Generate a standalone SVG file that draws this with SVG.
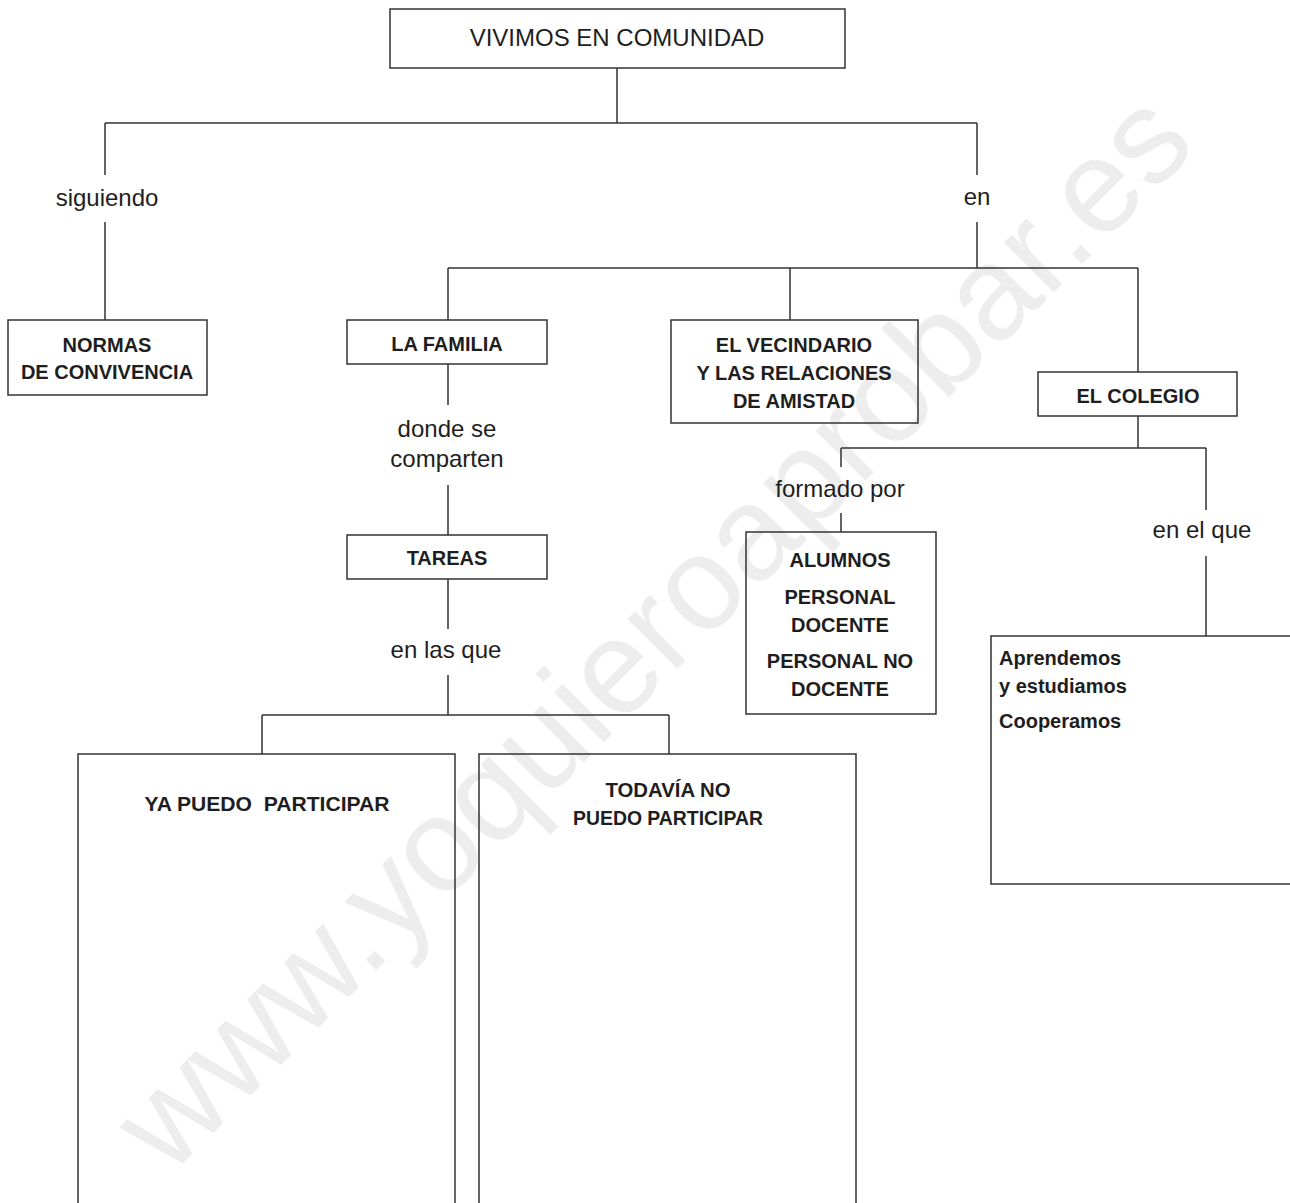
<svg xmlns="http://www.w3.org/2000/svg" width="1290" height="1203" viewBox="0 0 1290 1203">
<style>
.bx{fill:none;stroke:#333;stroke-width:1.5}
.ln{fill:none;stroke:#333;stroke-width:1.5}
.t{font-family:"Liberation Sans",Arial,sans-serif;font-size:24px;fill:#1e1e1e;text-anchor:middle}
.b{font-family:"Liberation Sans",Arial,sans-serif;font-size:20px;font-weight:bold;fill:#1e1e1e;text-anchor:middle}
.bl{text-anchor:start}
.wm{font-family:"Liberation Sans",Arial,sans-serif;font-size:133px;fill:#ededed}
</style>
<rect width="1290" height="1203" fill="#fff"/>
<text class="wm" transform="translate(169 1177) rotate(-45)">www.yoquieroaprobar.es</text>
<g id="connectors">
<path class="ln" d="M617 68V123M105 123H977M105 123V175M105 222V320M977 123V175M977 222V268M448 268H1138M448 268V320M790 268V320M1138 268V372"/>
<path class="ln" d="M448 364V405M448 485V535M448 579V629M448 675V715M262 715H669M262 715V754M669 715V754"/>
<path class="ln" d="M1138 416V448M841 448H1206M841 448V467M841 513V532M1206 448V510M1206 556V636"/>
</g>
<g id="lbl-siguiendo"><text class="t" x="107" y="206">siguiendo</text></g>
<g id="lbl-en"><text class="t" x="977" y="205">en</text></g>
<g id="lbl-donde"><text class="t" x="447" y="437">donde se</text><text class="t" x="447" y="467">comparten</text></g>
<g id="lbl-enlasque"><text class="t" x="446" y="658">en las que</text></g>
<g id="lbl-formado"><text class="t" x="840" y="497">formado por</text></g>
<g id="lbl-enelque"><text class="t" x="1202" y="538">en el que</text></g>
<g id="n-vivimos"><rect class="bx" x="390" y="9" width="455" height="59"/><text class="t" x="617" y="46">VIVIMOS EN COMUNIDAD</text></g>
<g id="n-normas"><rect class="bx" x="8" y="320" width="199" height="75"/><text class="b" x="107" y="352">NORMAS</text><text class="b" x="107" y="379">DE CONVIVENCIA</text></g>
<g id="n-familia"><rect class="bx" x="347" y="320" width="200" height="44"/><text class="b" x="447" y="351">LA FAMILIA</text></g>
<g id="n-vecindario"><rect class="bx" x="671" y="320" width="247" height="103"/><text class="b" x="794" y="352">EL VECINDARIO</text><text class="b" x="794" y="380">Y LAS RELACIONES</text><text class="b" x="794" y="408">DE AMISTAD</text></g>
<g id="n-colegio"><rect class="bx" x="1038" y="372" width="199" height="44"/><text class="b" x="1138" y="403">EL COLEGIO</text></g>
<g id="n-tareas"><rect class="bx" x="347" y="535" width="200" height="44"/><text class="b" x="447" y="565">TAREAS</text></g>
<g id="n-alumnos"><rect class="bx" x="746" y="532" width="190" height="182"/><text class="b" x="840" y="567">ALUMNOS</text><text class="b" x="840" y="604">PERSONAL</text><text class="b" x="840" y="632">DOCENTE</text><text class="b" x="840" y="668">PERSONAL NO</text><text class="b" x="840" y="696">DOCENTE</text></g>
<g id="n-aprendemos"><rect class="bx" x="991" y="636" width="320" height="248"/><text class="b bl" x="999" y="665">Aprendemos</text><text class="b bl" x="999" y="693">y estudiamos</text><text class="b bl" x="999" y="728">Cooperamos</text></g>
<g id="n-yapuedo"><rect class="bx" x="78" y="754" width="377" height="470"/><text class="b" x="267" y="811" xml:space="preserve" textLength="245" lengthAdjust="spacingAndGlyphs">YA PUEDO  PARTICIPAR</text></g>
<g id="n-todavia"><rect class="bx" x="479" y="754" width="377" height="470"/><text class="b" x="668" y="797" textLength="125" lengthAdjust="spacingAndGlyphs">TODAVÍA NO</text><text class="b" x="668" y="825" textLength="190" lengthAdjust="spacingAndGlyphs">PUEDO PARTICIPAR</text></g>
</svg>
